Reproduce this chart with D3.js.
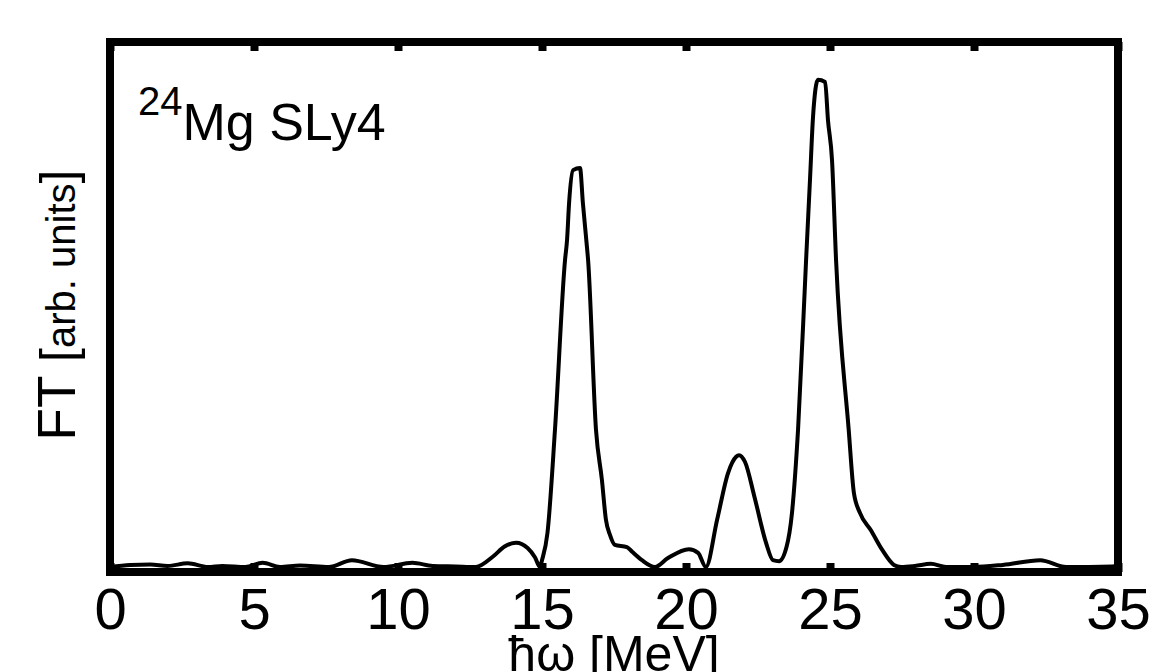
<!DOCTYPE html>
<html>
<head>
<meta charset="utf-8">
<script src="https://cdn.jsdelivr.net/npm/d3@7"></script>
<style>
  body { margin: 0; background: #fff; }
  svg { display: block; font-family: "Liberation Sans", Arial, sans-serif; }
</style>
</head>
<body>
<svg width="1154" height="672"></svg>
<script>
// energy grid [MeV] and FT strength [arb. units]
const energy = [0, 0.7, 1.4, 2.0, 2.7, 3.4, 3.9, 4.7, 5.3, 5.9, 6.6, 7.6, 8.4, 9.5, 10.5, 11.2, 12.0, 12.7,
  13.3, 13.7, 14.1, 14.5, 14.76, 14.93, 15.0, 15.19, 15.45, 15.80, 15.87, 15.94, 16.08, 16.32, 16.42, 16.56, 16.60,
  16.875, 17.08, 17.22, 17.36, 17.53, 17.95, 18.13, 18.47, 18.92, 19.375, 20.10, 20.42, 20.69,
  21.08, 21.46, 21.74, 21.84, 22.05, 22.38, 22.78, 23.02, 23.23, 23.49, 23.68, 23.89,
  24.17, 24.31, 24.41, 24.58, 24.83, 24.93, 25.07, 25.21, 25.65, 25.83, 26.04, 26.42, 26.82, 27.22, 27.47,
  27.95, 28.5, 29.03, 29.97, 31.0, 32.3, 33.2, 34.8, 35]
const ft = [0, 0.4, 0.5, 0.2, 0.7, 0, 0.2, 0, 0.8, 0, 0.3, 0, 1.3, 0, 0.8, 0.2, 0.1, 0,
  2.0, 3.9, 4.6, 3.6, 1.8, 0, 1.3, 6.5, 26.1, 58.5, 62.3, 69.3, 75.6, 76.0, 69.3, 61.0, 58.5,
  26.1, 16.6, 9.0, 6.1, 4.2, 3.8, 2.9, 1.3, 0, 1.7, 3.4, 2.7, 0,
  9.0, 17.9, 21.0, 21.3, 20.0, 13.3, 4.6, 1.3, 1.1, 3.8, 10.3, 26.1,
  58.5, 74.3, 85.7, 92.8, 92.4, 85.1, 77.5, 58.5, 26.1, 14.1, 10.3, 7.0, 3.2, 0.4, 0,
  0.2, 0.6, 0, 0, 0.4, 1.3, 0, 0.1, 0.2]
const xTicks = [0, 5, 10, 15, 20, 25, 30, 35]

const svg = d3.select('svg')
const pLeft = 110, pRight = 1118, pTop = 42, pBottom = 572

const x = d3.scaleLinear().domain([0, 35]).range([pLeft, pRight])
const y = d3.scaleLinear().domain([0, 100]).range([567, pTop])

// curve
const line = d3.line()
  .x((d, i) => x(energy[i]))
  .y(d => y(d))
  .curve(d3.curveMonotoneX)

svg.append('path')
  .datum(ft)
  .attr('d', line)
  .attr('fill', 'none')
  .attr('stroke', 'black')
  .attr('stroke-width', 4)

// bottom axis with inward ticks
const xAxis = svg.append('g')
  .attr('transform', `translate(0,${pBottom})`)
  .call(d3.axisBottom(x).tickValues(xTicks).tickSizeInner(-9).tickSizeOuter(0).tickPadding(16))
xAxis.select('.domain').remove()
xAxis.selectAll('line')
  .attr('stroke', 'black')
  .attr('stroke-width', 8)
xAxis.selectAll('text')
  .attr('font-size', 58)
  .attr('fill', 'black')
  .style('font-family', '"Liberation Sans", Arial, sans-serif')

// top axis, ticks only
const xTop = svg.append('g')
  .attr('transform', `translate(0,${pTop})`)
  .call(d3.axisTop(x).tickValues(xTicks).tickSizeInner(-9).tickSizeOuter(0).tickFormat(''))
xTop.select('.domain').remove()
xTop.selectAll('line')
  .attr('stroke', 'black')
  .attr('stroke-width', 8)

// frame
svg.append('rect')
  .attr('x', pLeft)
  .attr('y', pTop)
  .attr('width', pRight - pLeft)
  .attr('height', pBottom - pTop)
  .attr('fill', 'none')
  .attr('stroke', 'black')
  .attr('stroke-width', 8)

// x title
svg.append('text')
  .attr('x', (pLeft + pRight) / 2)
  .attr('y', 671)
  .attr('text-anchor', 'middle')
  .attr('font-size', 50)
  .text('ħω [MeV]')

// y title
const yt = svg.append('text')
  .attr('transform', 'translate(75,305) rotate(-90)')
  .attr('text-anchor', 'middle')
yt.append('tspan').attr('font-size', 53).text('FT ')
yt.append('tspan').attr('font-size', 50).text('[')
yt.append('tspan').attr('font-size', 40).text('arb. units')
yt.append('tspan').attr('font-size', 50).text(']')

// nucleus label
const lab = svg.append('text')
  .attr('x', 138)
  .attr('y', 140)
lab.append('tspan').attr('font-size', 40).attr('dy', -25).text('24')
lab.append('tspan').attr('font-size', 52).attr('dy', 25).text('Mg SLy4')
</script>
</body>
</html>
